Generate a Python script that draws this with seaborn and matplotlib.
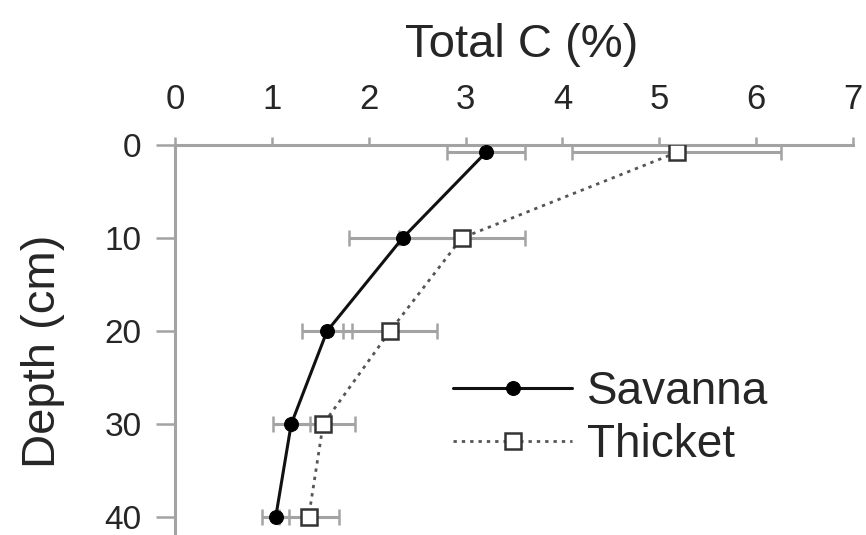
import matplotlib
matplotlib.use('Agg')
import matplotlib.pyplot as plt
import seaborn as sns
import pandas as pd

depth = [0.8, 10, 20, 30, 40]
savanna_c = [3.21, 2.35, 1.57, 1.20, 1.04]
savanna_err = [0.40, 0.55, 0.26, 0.19, 0.14]
thicket_c = [5.18, 2.96, 2.22, 1.53, 1.38]
thicket_err = [1.08, 0.65, 0.49, 0.33, 0.31]
x_ticks = [0, 1, 2, 3, 4, 5, 6, 7]
y_ticks = [0, 10, 20, 30, 40]
x_title = "Total C (%)"
y_title = "Depth (cm)"
series_names = ["Savanna", "Thicket"]

sns.set_theme(style='white')
plt.rcParams['font.family'] = ['Liberation Sans', 'DejaVu Sans']

fig = plt.figure(figsize=(8.66, 5.35), dpi=100)
ax = fig.add_axes([0.202, 0.0, 0.783, 0.7290])

grey = '#a3a3a3'
ax.errorbar(savanna_c, depth, xerr=savanna_err, fmt='none', ecolor=grey,
            elinewidth=2.2, capsize=6, capthick=1.8, zorder=2)
ax.errorbar(thicket_c, depth, xerr=thicket_err, fmt='none', ecolor=grey,
            elinewidth=2.2, capsize=6, capthick=1.8, zorder=2)

df_s = pd.DataFrame({'c': savanna_c, 'd': depth})
df_t = pd.DataFrame({'c': thicket_c, 'd': depth})
sns.lineplot(data=df_s, x='c', y='d', orient='y', ax=ax, color='#111111',
             linewidth=2.2, marker='o', markersize=10, markerfacecolor='black',
             markeredgecolor='black', label=series_names[0], zorder=4)
sns.lineplot(data=df_t, x='c', y='d', orient='y', ax=ax, color='#555555',
             linewidth=2.0, linestyle=(0, (1.2, 1.8)), marker='s', markersize=11,
             markerfacecolor='white', markeredgecolor='#333333', markeredgewidth=1.8,
             label=series_names[1], zorder=3)

ax.set_xlim(0, 7)
ax.set_ylim(41.9, 0)
ax.set_xticks(x_ticks)
ax.set_yticks(y_ticks)
ax.xaxis.tick_top()
ax.xaxis.set_label_position('top')
ax.set_xlabel(x_title, fontsize=34)
ax.set_ylabel(y_title, fontsize=34)
ax.xaxis.set_label_coords(0.512, 1.225)
ax.yaxis.set_label_coords(-0.162, 0.472)

for s in ['bottom', 'right']:
    ax.spines[s].set_visible(False)
for s in ['top', 'left']:
    ax.spines[s].set_visible(True)
    ax.spines[s].set_color(grey)
    ax.spines[s].set_linewidth(2.2)

ax.tick_params(axis='x', which='major', direction='out', length=6, width=1.8,
               color=grey, labelsize=25, pad=15, top=True, bottom=False)
ax.tick_params(axis='y', which='major', direction='out', length=14, width=1.8,
               color=grey, labelsize=24, pad=10, left=True)

leg = ax.legend(loc='center left', bbox_to_anchor=(0.41, 0.298), frameon=False,
                fontsize=33, handlelength=2.6, handletextpad=0.33,
                labelspacing=0.2, borderpad=0, borderaxespad=0, numpoints=1)

fig.savefig('out.png', dpi=100)
